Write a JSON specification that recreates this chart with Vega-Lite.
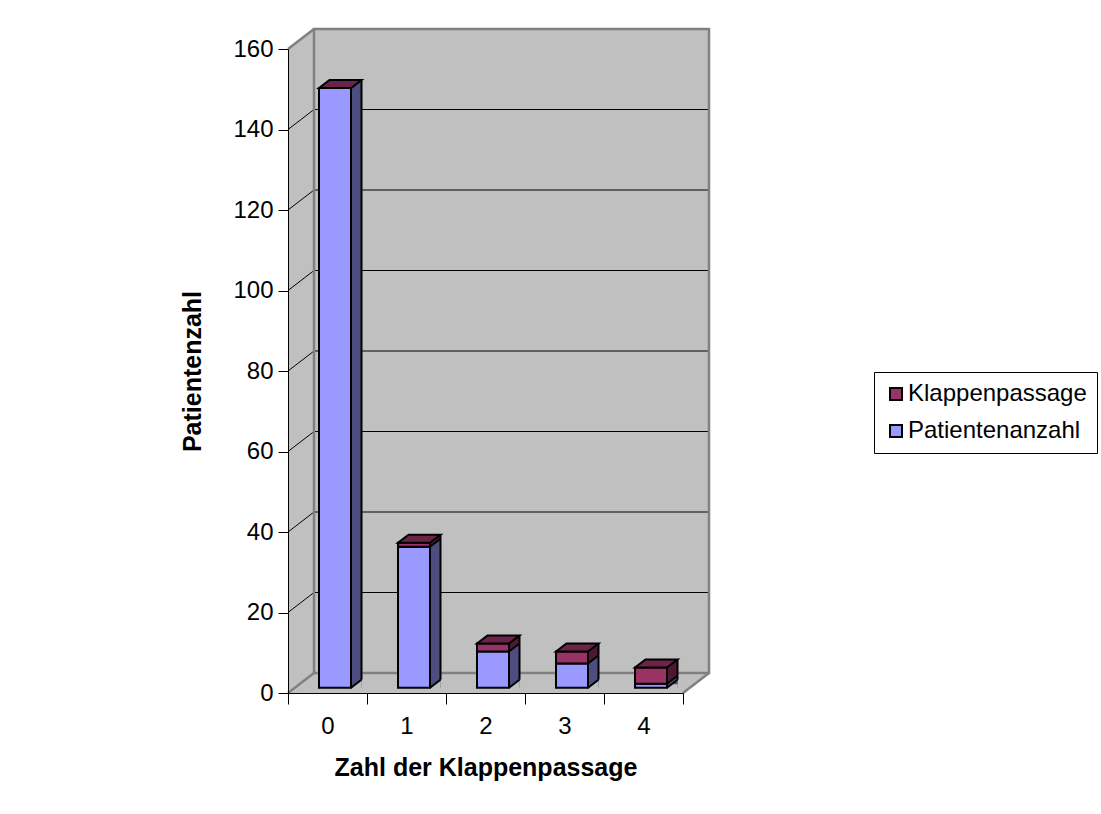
{
  "$schema": "https://vega.github.io/schema/vega-lite/v6.json",
  "width": 395,
  "height": 644,
  "autosize": {"type": "none"},
  "padding": {"left": 288, "top": 49, "right": 418, "bottom": 121},
  "background": "white",
  "config": {"view": {"stroke": null}, "font": "Liberation Sans"},
  "datasets": {
    "patienten": [
      {"Zahl": 0, "Serie": "Patientenanzahl", "Anzahl": 149},
      {"Zahl": 1, "Serie": "Patientenanzahl", "Anzahl": 35},
      {"Zahl": 2, "Serie": "Patientenanzahl", "Anzahl": 9},
      {"Zahl": 3, "Serie": "Patientenanzahl", "Anzahl": 6},
      {"Zahl": 4, "Serie": "Patientenanzahl", "Anzahl": 1},
      {"Zahl": 0, "Serie": "Klappenpassage", "Anzahl": 0},
      {"Zahl": 1, "Serie": "Klappenpassage", "Anzahl": 1},
      {"Zahl": 2, "Serie": "Klappenpassage", "Anzahl": 2},
      {"Zahl": 3, "Serie": "Klappenpassage", "Anzahl": 3},
      {"Zahl": 4, "Serie": "Klappenpassage", "Anzahl": 4}
    ],
    "raster": [
      {"wert": 20}, {"wert": 40}, {"wert": 60}, {"wert": 80},
      {"wert": 100}, {"wert": 120}, {"wert": 140}
    ],
    "rahmen": [{}]
  },
  "layer": [
    {
      "data": {"name": "rahmen"},
      "mark": {"type": "rect", "fill": "#C0C0C0", "x2Offset": 26, "yOffset": -20},
      "encoding": {
        "x": {"datum": -0.5, "type": "quantitative", "scale": {"domain": [-0.5, 4.5], "nice": false, "zero": false}},
        "x2": {"datum": 4.5},
        "y": {"datum": 160, "type": "quantitative", "scale": {"domain": [0, 160], "nice": false}},
        "y2": {"datum": 0}
      }
    },
    {
      "data": {"name": "rahmen"},
      "mark": {"type": "point", "filled": true, "fill": "white", "opacity": 1, "size": 4, "shape": "M0 0L26 -20L0 -20Z"},
      "encoding": {
        "x": {"datum": -0.5, "type": "quantitative"},
        "y": {"datum": 160, "type": "quantitative"}
      }
    },
    {
      "data": {"name": "rahmen"},
      "mark": {"type": "point", "filled": true, "fill": "white", "opacity": 1, "size": 4, "shape": "M0 0.5L26 -20L26 0.5Z"},
      "encoding": {
        "x": {"datum": 4.5, "type": "quantitative"},
        "y": {"datum": 0, "type": "quantitative"}
      }
    },
    {
      "data": {"name": "raster"},
      "mark": {"type": "rule", "stroke": "black", "strokeWidth": 1, "xOffset": 26, "x2Offset": 26, "yOffset": -20},
      "encoding": {
        "x": {"datum": -0.5, "type": "quantitative"},
        "x2": {"datum": 4.5},
        "y": {"field": "wert", "type": "quantitative"}
      }
    },
    {
      "data": {"name": "raster"},
      "mark": {"type": "rule", "stroke": "black", "strokeWidth": 1, "x2Offset": 26, "y2Offset": -20},
      "encoding": {
        "x": {"datum": -0.5, "type": "quantitative"},
        "x2": {"datum": -0.5},
        "y": {"field": "wert", "type": "quantitative"},
        "y2": {"field": "wert"}
      }
    },
    {
      "data": {"name": "rahmen"},
      "mark": {"type": "rect", "filled": false, "stroke": "#808080", "strokeWidth": 2.5, "xOffset": 26, "x2Offset": 26, "yOffset": -20, "y2Offset": -20},
      "encoding": {
        "x": {"datum": -0.5, "type": "quantitative"},
        "x2": {"datum": 4.5},
        "y": {"datum": 160, "type": "quantitative"},
        "y2": {"datum": 0}
      }
    },
    {
      "data": {"name": "rahmen"},
      "mark": {"type": "rule", "stroke": "#808080", "strokeWidth": 2.5, "x2Offset": 26, "y2Offset": -20},
      "encoding": {
        "x": {"datum": -0.5, "type": "quantitative"},
        "x2": {"datum": -0.5},
        "y": {"datum": 160, "type": "quantitative"},
        "y2": {"datum": 160}
      }
    },
    {
      "data": {"name": "rahmen"},
      "mark": {"type": "rule", "stroke": "#808080", "strokeWidth": 2.5, "x2Offset": 26, "y2Offset": -20},
      "encoding": {
        "x": {"datum": -0.5, "type": "quantitative"},
        "x2": {"datum": -0.5},
        "y": {"datum": 0, "type": "quantitative"},
        "y2": {"datum": 0}
      }
    },
    {
      "data": {"name": "rahmen"},
      "mark": {"type": "rule", "stroke": "#808080", "strokeWidth": 2.5, "x2Offset": 26, "y2Offset": -20},
      "encoding": {
        "x": {"datum": 4.5, "type": "quantitative"},
        "x2": {"datum": 4.5},
        "y": {"datum": 0, "type": "quantitative"},
        "y2": {"datum": 0}
      }
    },
    {
      "data": {"name": "patienten"},
      "transform": [
        {"stack": "Anzahl", "groupby": ["Zahl"], "sort": [{"field": "Serie", "order": "descending"}], "as": ["unten", "oben"]}
      ],
      "resolve": {"scale": {"fill": "independent"}},
      "layer": [
        {
          "mark": {"type": "rect", "xOffset": 23.5, "x2Offset": 34, "yOffset": -13.3, "y2Offset": -5.3},
          "encoding": {
            "x": {"field": "Zahl", "type": "quantitative"},
            "x2": {"field": "Zahl"},
            "y": {"field": "oben", "type": "quantitative"},
            "y2": {"field": "unten"},
            "fill": {"field": "Serie", "type": "nominal", "scale": {"domain": ["Klappenpassage", "Patientenanzahl"], "range": ["#4C1933", "#4D4D80"]}, "legend": null}
          }
        },
        {
          "mark": {"type": "point", "filled": true, "opacity": 1, "size": 4, "yOffset": -5.3, "shape": "M23.5 0.6L34 0.6L34 -8Z"},
          "encoding": {
            "x": {"field": "Zahl", "type": "quantitative"},
            "y": {"field": "unten", "type": "quantitative"},
            "fill": {"field": "Serie", "type": "nominal", "scale": {"domain": ["Klappenpassage", "Patientenanzahl"], "range": ["#4D4D80", "#C0C0C0"]}, "legend": null}
          }
        },
        {
          "mark": {"type": "rule", "stroke": "black", "strokeWidth": 2, "xOffset": 23.5, "x2Offset": 34, "yOffset": -5.3, "y2Offset": -13.3},
          "encoding": {
            "x": {"field": "Zahl", "type": "quantitative"},
            "x2": {"field": "Zahl"},
            "y": {"field": "unten", "type": "quantitative"},
            "y2": {"field": "unten"}
          }
        },
        {
          "mark": {"type": "rule", "stroke": "black", "strokeWidth": 2, "xOffset": 34, "yOffset": -13.3, "y2Offset": -13.3},
          "encoding": {
            "x": {"field": "Zahl", "type": "quantitative"},
            "y": {"field": "oben", "type": "quantitative"},
            "y2": {"field": "unten"}
          }
        },
        {
          "mark": {"type": "rect", "stroke": "black", "strokeWidth": 2, "xOffset": -8.5, "x2Offset": 23.5, "yOffset": -5.3, "y2Offset": -5.3},
          "encoding": {
            "x": {
              "field": "Zahl", "type": "quantitative",
              "scale": {"domain": [-0.5, 4.5], "nice": false, "zero": false},
              "axis": {
                "orient": "bottom",
                "values": [-0.5, 0.5, 1.5, 2.5, 3.5, 4.5],
                "labelExpr": "datum.value < 4 ? format(datum.value + 0.5, 'd') : ''",
                "labelOffset": 39.5,
                "labelFlush": false,
                "labelOverlap": false,
                "labelBound": false,
                "grid": false,
                "zindex": 1,
                "domainColor": "black",
                "tickColor": "black",
                "tickSize": 11,
                "labelColor": "black",
                "labelFont": "Liberation Sans",
                "labelFontSize": 24,
                "labelPadding": 10,
                "title": "Zahl der Klappenpassage",
                "titleFont": "Liberation Sans",
                "titleFontSize": 25,
                "titleFontWeight": "bold",
                "titleColor": "black",
                "titlePadding": 17
              }
            },
            "x2": {"field": "Zahl"},
            "y": {
              "field": "oben", "type": "quantitative",
              "scale": {"domain": [0, 160], "nice": false},
              "axis": {
                "orient": "left",
                "values": [0, 20, 40, 60, 80, 100, 120, 140, 160],
                "format": "d",
                "grid": false,
                "zindex": 1,
                "domainColor": "black",
                "tickColor": "black",
                "tickSize": 10,
                "labelColor": "black",
                "labelFont": "Liberation Sans",
                "labelFontSize": 24,
                "labelPadding": 5,
                "title": "Patientenzahl",
                "titleFont": "Liberation Sans",
                "titleFontSize": 25,
                "titleFontWeight": "bold",
                "titleColor": "black",
                "titlePadding": 27
              }
            },
            "y2": {"field": "unten"},
            "color": {
              "field": "Serie", "type": "nominal",
              "scale": {"domain": ["Klappenpassage", "Patientenanzahl"], "range": ["#993366", "#9999FF"]},
              "legend": {
                "orient": "none",
                "legendX": 586,
                "legendY": 323,
                "title": null,
                "symbolType": "square",
                "symbolSize": 144,
                "symbolStrokeColor": "black",
                "symbolStrokeWidth": 2,
                "symbolOpacity": 1,
                "labelFont": "Liberation Sans",
                "labelFontSize": 24,
                "labelColor": "black",
                "labelOffset": 0,
                "labelLimit": 400,
                "strokeColor": "black",
                "fillColor": "white",
                "padding": 10,
                "rowPadding": 13
              }
            }
          }
        },
        {
          "transform": [{"filter": "datum.Serie === 'Klappenpassage'"}],
          "mark": {"type": "point", "filled": true, "opacity": 1, "fill": "#6B2447", "stroke": "black", "strokeWidth": 2, "size": 4, "yOffset": -5.3, "shape": "M-8.5 0L23.5 0L34 -8L2 -8Z"},
          "encoding": {
            "x": {"field": "Zahl", "type": "quantitative"},
            "y": {"field": "oben", "type": "quantitative"}
          }
        }
      ]
    }
  ]
}
